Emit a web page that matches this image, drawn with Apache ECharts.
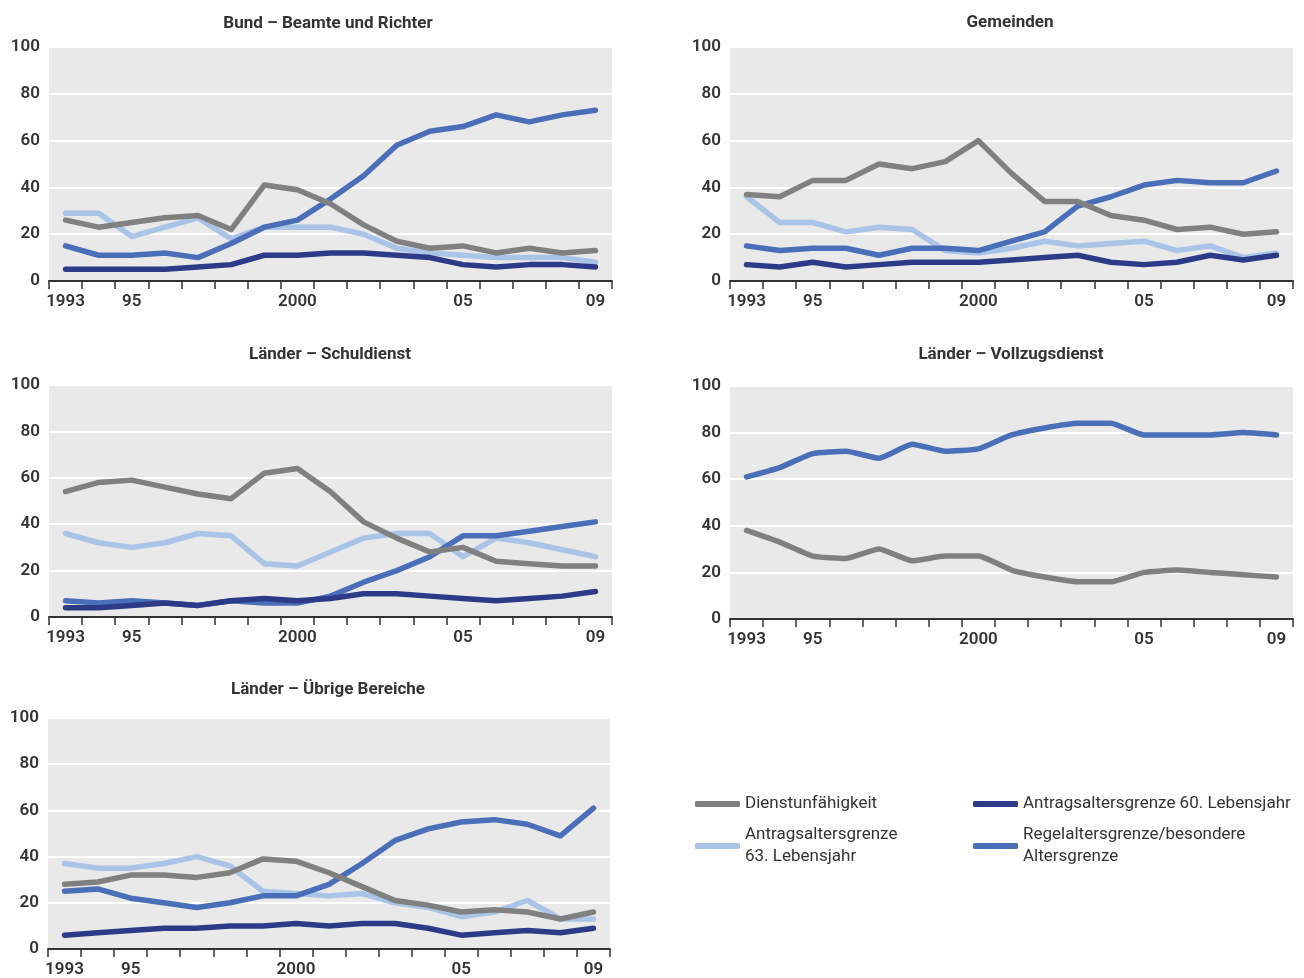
<!DOCTYPE html>
<html>
<head>
<meta charset="utf-8">
<script src="https://cdn.jsdelivr.net/npm/echarts@6/dist/echarts.min.js"></script>
<style>
html,body{margin:0;padding:0;background:#fff;}
#chart{width:1304px;height:978px;}
</style>
</head>
<body>
<div id="chart"></div>
<script>
// ---- categories & tick labels ----
const years = ['1993','1994','1995','1996','1997','1998','1999','2000','2001','2002','2003','2004','2005','2006','2007','2008','2009'];
const shownYearLabels = {'1993':'1993','1995':'95','2000':'2000','2005':'05','2009':'09'};
const yTicks = [0,20,40,60,80,100];

// ---- series names ----
const nameDienst = 'Dienstunfähigkeit';
const nameA63 = 'Antragsaltersgrenze 63. Lebensjahr';
const nameA60 = 'Antragsaltersgrenze 60. Lebensjahr';
const nameRegel = 'Regelaltersgrenze/besondere Altersgrenze';

// ---- panel titles ----
const titles = ['Bund – Beamte und Richter','Gemeinden','Länder – Schuldienst','Länder – Vollzugsdienst','Länder – Übrige Bereiche'];

// ---- Bund – Beamte und Richter ----
const bundDienst = [26,23,25,27,28,22,41,39,33,24,17,14,15,12,14,12,13];
const bundA63    = [29,29,19,23,27,18,23,23,23,20,14,12,11,10,10,10,8];
const bundA60    = [5,5,5,5,6,7,11,11,12,12,11,10,7,6,7,7,6];
const bundRegel  = [15,11,11,12,10,16,23,26,35,45,58,64,66,71,68,71,73];

// ---- Gemeinden ----
const gemDienst = [37,36,43,43,50,48,51,60,46,34,34,28,26,22,23,20,21];
const gemA63    = [36,25,25,21,23,22,13,12,14,17,15,16,17,13,15,10,12];
const gemA60    = [7,6,8,6,7,8,8,8,9,10,11,8,7,8,11,9,11];
const gemRegel  = [15,13,14,14,11,14,14,13,17,21,32,36,41,43,42,42,47];

// ---- Länder – Schuldienst ----
const schulDienst = [54,58,59,56,53,51,62,64,54,41,34,28,30,24,23,22,22];
const schulA63    = [36,32,30,32,36,35,23,22,28,34,36,36,26,34,32,29,26];
const schulA60    = [4,4,5,6,5,7,8,7,8,10,10,9,8,7,8,9,11];
const schulRegel  = [7,6,7,6,5,7,6,6,9,15,20,26,35,35,37,39,41];

// ---- Länder – Vollzugsdienst ----
const vollDienst = [38,33,27,26,30,25,27,27,21,18,16,16,20,21,20,19,18];
const vollRegel  = [61,65,71,72,69,75,72,73,79,82,84,84,79,79,79,80,79];

// ---- Länder – Übrige Bereiche ----
const uebDienst = [28,29,32,32,31,33,39,38,33,27,21,19,16,17,16,13,16];
const uebA63    = [37,35,35,37,40,36,25,24,23,24,20,18,14,16,21,13,13];
const uebA60    = [6,7,8,9,9,10,10,11,10,11,11,9,6,7,8,7,9];
const uebRegel  = [25,26,22,20,18,20,23,23,28,37,47,52,55,56,54,49,61];

// ---- styles ----
const colors = {};
colors[nameDienst] = '#808080';
colors[nameA63] = '#a9c4e7';
colors[nameA60] = '#2c3a88';
colors[nameRegel] = '#4a6eb8';

const FONT = 'Roboto, "Liberation Sans", sans-serif';
const TXT = '#333333';

const grids = [
  {left:49, top:47, width:563, height:234},
  {left:730, top:47, width:563, height:234},
  {left:49, top:385, width:563, height:232},
  {left:730, top:386, width:563, height:233},
  {left:48, top:718, width:562, height:233}
];
const titlePos = [
  {x:323, y:10}, {x:1005, y:9}, {x:325, y:341}, {x:1006, y:341}, {x:323, y:676}
];

const panels = [
  [[nameA63,bundA63],[nameRegel,bundRegel],[nameA60,bundA60],[nameDienst,bundDienst]],
  [[nameA63,gemA63],[nameRegel,gemRegel],[nameA60,gemA60],[nameDienst,gemDienst]],
  [[nameA63,schulA63],[nameRegel,schulRegel],[nameA60,schulA60],[nameDienst,schulDienst]],
  [[nameRegel,vollRegel],[nameDienst,vollDienst]],
  [[nameA63,uebA63],[nameRegel,uebRegel],[nameA60,uebA60],[nameDienst,uebDienst]]
];

const option = {
  animation:false,
  backgroundColor:'#ffffff',
  textStyle:{fontFamily:FONT},
  title: titles.map((t,i)=>({
    text:t, left:titlePos[i].x, top:titlePos[i].y, textAlign:'center',
    textStyle:{fontFamily:FONT, fontSize:17, fontWeight:'bold', color:TXT}
  })),
  grid: grids.map(g=>Object.assign({show:true, backgroundColor:'#e9e9e9', borderWidth:0, containLabel:false}, g)),
  xAxis: grids.map((g,i)=>({
    type:'category', gridIndex:i, data:years, boundaryGap:true,
    axisLine:{show:true, lineStyle:{color:'#333', width:2}},
    axisTick:{show:true, length:8, lineStyle:{color:'#333', width:1.5}, interval:0},
    axisLabel:{interval:0, margin:12, fontSize:17, fontWeight:600, color:TXT, fontFamily:FONT,
      formatter:(v)=> shownYearLabels[v] || ''},
    splitLine:{show:false}
  })),
  yAxis: grids.map((g,i)=>({
    type:'value', gridIndex:i, min:yTicks[0], max:yTicks[yTicks.length-1], interval:20,
    axisLine:{show:false}, axisTick:{show:false},
    axisLabel:{margin:9, fontSize:17, fontWeight:600, color:TXT, fontFamily:FONT},
    splitLine:{show:true, lineStyle:{color:'#ffffff', width:2}}
  })),
  legend: [
    {data:[nameDienst], left:690, top:788},
    {data:[nameA60], left:968, top:788},
    {data:[nameA63], left:690, top:819, formatter:()=> 'Antragsaltersgrenze\n63. Lebensjahr'},
    {data:[nameRegel], left:968, top:819, formatter:()=> 'Regelaltersgrenze/besondere\nAltersgrenze'}
  ].map(l=>Object.assign({
    orient:'vertical', icon:'roundRect', itemWidth:45, itemHeight:6, selectedMode:false,
    textStyle:{fontFamily:FONT, fontSize:17, color:TXT, lineHeight:22}
  }, l)),
  series: []
};

panels.forEach((list, gi)=>{
  list.forEach(([name, data])=>{
    option.series.push({
      type:'line', name:name, xAxisIndex:gi, yAxisIndex:gi, data:data,
      symbol:'none', smooth: gi===3 ? 0.15 : false,
      itemStyle:{color:colors[name]},
      lineStyle:{color:colors[name], width:5.5, cap:'round', join:'round'}
    });
  });
});

const chart = echarts.init(document.getElementById('chart'), null, {renderer:'canvas'});
chart.setOption(option);
</script>
</body>
</html>
